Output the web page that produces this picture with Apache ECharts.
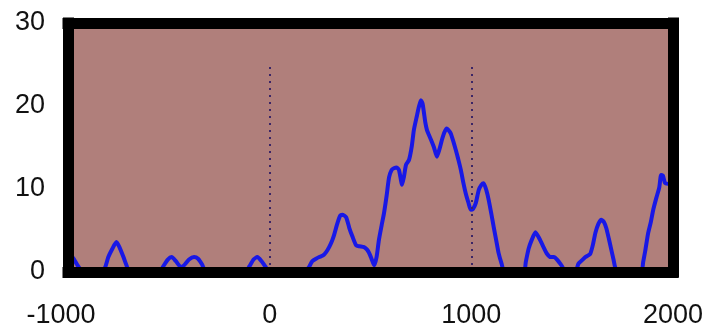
<!DOCTYPE html>
<html>
<head>
<meta charset="utf-8">
<script src="https://cdn.jsdelivr.net/npm/echarts@6/dist/echarts.min.js"></script>
<style>
html,body{margin:0;padding:0;background:#fff;}
#c{width:713px;height:331px;}
</style>
</head>
<body>
<div id="c"></div>
<script>
// ---- data ----
const xValues = [-1000,-975,-955,-935,-920,-830,-815,-800,-780,-760,-745,-725,-710,-695,
  -545,-530,-505,-486,-465,-440,-425,-400,-375,-355,-335,-315,
  -120,-100,-80,-61,-40,-20,0,
  175,195,211,230,246,265,280,295,310,320,335,350,360,379,395,410,429,445,468,483,493,505,518,
  530,542,555,567,580,592,605,616,630,641,650,656,666,676,691,705,715,730,740,750,758,765,772,780,
  790,804,815,829,842,854,866,878,890,898,910,923,935,948,960,972,985,997,1008,1022,1037,1050,1061,
  1075,1086,1100,1111,1125,1135,1150,1165,
  1260,1270,1284,1300,1318,1338,1358,1375,1393,1410,1425,1447,1470,
  1515,1531,1548,1565,1580,1590,1603,1615,1630,1645,1658,1669,1682,1694,1705,1714,1729,
  1842,1852,1862,1877,1890,1902,1917,1932,1941,1950,1961,1980,2000];
const yValues = [2.0,1.7,0.9,0.2,0,0,0.6,1.8,2.8,3.6,3.0,1.8,0.8,0,
  0,0.6,1.5,1.8,1.3,0.6,0.8,1.5,1.8,1.6,0.9,0,
  0,0.7,1.5,1.8,1.3,0.6,0,
  0,0.6,1.3,1.6,1.8,2.0,2.4,3.0,3.8,4.5,5.8,6.8,6.9,6.6,5.3,4.3,3.2,3.1,3.0,2.7,2.3,1.6,0.8,
  1.8,3.9,5.6,7.1,9.2,11.4,12.3,12.5,12.6,12.3,11.2,10.5,11.5,12.9,13.5,15.2,17.1,18.8,19.9,20.7,20.3,19.2,18.0,17.1,
  16.5,15.7,15.0,13.9,14.8,15.9,16.8,17.3,17.0,16.7,15.8,14.7,13.6,12.3,10.8,9.5,8.4,7.5,7.6,8.3,9.9,10.5,10.7,
  9.8,8.7,6.9,5.4,3.6,2.3,1.0,0,
  0,1.2,2.8,3.9,4.8,4.0,3.0,2.2,1.8,1.8,1.5,0.8,0,
  0,1.0,1.4,1.8,2.0,2.2,3.3,4.7,5.8,6.3,6.0,5.3,4.0,2.7,1.5,0.5,0,
  0,1.2,2.5,4.7,6.0,7.5,8.9,10.2,11.7,11.6,10.7,10.6,10.5];
const xTicks = [-1000, 0, 1000, 2000];
const yTicks = [0, 10, 20, 30];
const refLineX = [0, 1000];
const refLineTop = 25;

// ---- chart ----
const chart = echarts.init(document.getElementById('c'), null, {renderer:'canvas'});
const frameStyle = {color:'#000', width:11, cap:'square'};
const lblFont = {fontFamily:'"Liberation Sans", Arial, sans-serif', fontSize:27, color:'#111'};
const seriesData = xValues.map((x,i)=>[x, yValues[i]]);
const refLines = refLineX.map(x => [{coord:[x,0]},{coord:[x,refLineTop]}]);

chart.setOption({
  animation:false,
  backgroundColor:'#fff',
  grid:{left:68, right:40, top:23, bottom:59, show:true, backgroundColor:'#b07f7b', borderWidth:0},
  xAxis:[{
    type:'value', min:xTicks[0], max:xTicks[xTicks.length-1], interval:1000, position:'bottom', z:10,
    axisLine:{show:true, onZero:false, lineStyle:frameStyle},
    axisTick:{show:false}, splitLine:{show:false},
    axisLabel:Object.assign({margin:30, showMinLabel:true, showMaxLabel:true,
      formatter:v => v < 0 ? '{neg|' + v + '}' : '{pos|' + v + '}',
      rich:{neg:Object.assign({padding:[0,14,0,0]}, lblFont), pos:Object.assign({}, lblFont)}}, lblFont)
  },{
    type:'value', min:xTicks[0], max:xTicks[xTicks.length-1], position:'top', z:10,
    axisLine:{show:true, onZero:false, lineStyle:frameStyle},
    axisTick:{show:false}, splitLine:{show:false}, axisLabel:{show:false}
  }],
  yAxis:[{
    type:'value', min:yTicks[0], max:yTicks[yTicks.length-1], interval:10, position:'left', z:10,
    axisLine:{show:true, onZero:false, lineStyle:frameStyle},
    axisTick:{show:false}, splitLine:{show:false},
    axisLabel:Object.assign({margin:23}, lblFont)
  },{
    type:'value', min:yTicks[0], max:yTicks[yTicks.length-1], position:'right', z:10,
    axisLine:{show:true, onZero:false, lineStyle:frameStyle},
    axisTick:{show:false}, splitLine:{show:false}, axisLabel:{show:false}
  }],
  series:[{
    type:'line', xAxisIndex:0, yAxisIndex:0, data:seriesData, showSymbol:false, clip:true,
    smooth:0.2,
    lineStyle:{color:'#1818e6', width:4},
    markLine:{silent:true, symbol:['none','none'], label:{show:false},
      lineStyle:{color:'#3b2566', width:2, type:[2,5]}, data:refLines}
  }]
});
</script>
</body>
</html>
